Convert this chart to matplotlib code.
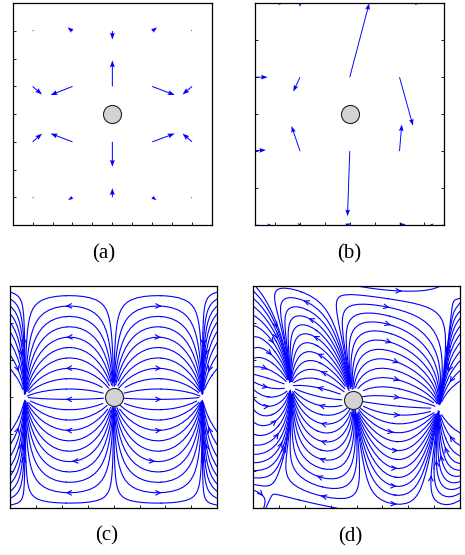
import matplotlib
matplotlib.use("Agg")
import matplotlib.pyplot as plt
import numpy as np

# (a) quiver: grid and vectors (rows from bottom)
a_x = [1, 3, 5, 7, 9]
a_y = [1, 3, 5, 7]
a_u = [
    [0.06, -0.22, 0.0, 0.22, -0.06],
    [0.47, -1.10, 0.0, 1.13, -0.48],
    [0.47, -1.10, 0.0, 1.13, -0.48],
    [0.06, -0.25, 0.0, 0.25, -0.06],
]
a_v = [
    [-0.04, -0.10, 0.33, -0.10, -0.04],
    [0.30, 0.30, -0.90, 0.30, 0.30],
    [-0.29, -0.31, 0.94, -0.31, -0.29],
    [0.04, 0.13, -0.31, 0.13, 0.04],
]

# (b) quiver
b_x = [0, 2, 4, 6, 8]
b_y = [0, 2, 4, 6]
b_u = [
    [0.95, -0.10, -0.20, 0.25, -0.90],
    [0.63, -0.34, -0.09, 0.09, 0.30],
    [0.70, -0.27, 0.78, 0.54, 0.30],
    [1.40, 0.00, 0.00, 0.88, 0.20],
]
b_v = [
    [-0.03, 0.05, 0.03, 0.02, -0.03],
    [0.03, 0.68, -1.76, 0.72, 0.00],
    [0.00, -0.39, 2.00, -1.31, 0.00],
    [0.02, -0.10, 0.30, 0.02, 0.00],
]

# (c) / (d): separatrix columns
# order: left sink column, source column (circle), right sink column
c_col_top = [0.58, 4.0, 7.42]
c_col_mid = [0.58, 4.0, 7.42]
c_col_bot = [0.58, 4.0, 7.42]
c_node_y = [3.0, 3.0, 3.0]

d_col_top = [0.4, 2.9, 7.75]
d_col_mid = [1.45, 3.86, 7.18]
d_col_bot = [0.5, 4.3, 6.5]
d_node_y = [3.29, 2.93, 2.70]

cell_w, cell_h = 6.84, 6.0
beta = 0.6

circle_a = (5, 4)
circle_b = (4, 3)


def columns(top, mid, bot, node_y, yy):
    out = []
    for t, m, b, ym in zip(top, mid, bot, node_y):
        out.append(np.polyval(np.polyfit([0, ym, 6], [b, m, t], 2), yy))
    return out


def stream_field(top, mid, bot, node_y, nx=320, ny=240):
    x = np.linspace(0, 8, nx)
    y = np.linspace(0, 6, ny)
    X, Y = np.meshgrid(x, y)
    xl, xs, xr = columns(top, mid, bot, node_y, Y)
    h = cell_w / 2
    cx = (-h * (X - xs) * (X - xr) / ((xl - xs) * (xl - xr))
          + h * (X - xl) * (X - xs) / ((xr - xl) * (xr - xs)))
    sc = np.polyfit(mid, node_y, 2)
    cy = Y - np.polyval(sc, X)
    kx, ky = 2 * np.pi / cell_w, 2 * np.pi / cell_h
    uc = np.sin(kx * cx)
    vc = beta * np.cos(kx * cx) * np.sin(ky * cy)
    cx_y, cx_x = np.gradient(cx, y, x)
    cy_x = -np.polyval(np.polyder(sc), X)
    det = cx_x - cx_y * cy_x
    U = (uc - cx_y * vc) / det
    V = (-cy_x * uc + cx_x * vc) / det
    mask = ((X - mid[1]) / 0.3) ** 2 + ((Y - node_y[1]) / 0.22) ** 2 < 1
    for x0, y0 in zip(mid, node_y):
        mask |= (X - x0) ** 2 + (Y - y0) ** 2 < 0.06 ** 2
    return x, y, np.ma.array(U, mask=mask), np.ma.array(V, mask=mask)


def seeds(top, mid, bot, node_y, step):
    ys = np.arange(step / 2, 6, step)
    xl, xs, xr = columns(top, mid, bot, node_y, ys)
    pts = []
    for cols in [(xl + xs) / 2, (xs + xr) / 2, xl / 2, (xr + 8) / 2]:
        pts += list(zip(cols, ys))
    return np.array(pts)


def style_axes(ax, xlim, ylim, xticks, yticks, right=False):
    ax.set_xlim(*xlim)
    ax.set_ylim(*ylim)
    ax.set_xticks(xticks)
    ax.set_yticks(yticks)
    ax.tick_params(direction="in", length=2, width=0.6, labelbottom=False,
                   labelleft=False, right=right)
    for s in ax.spines.values():
        s.set_linewidth(0.9)


def draw_circle(ax, c):
    ax.plot(c[0], c[1], "o", ms=13, mfc="#d3d3d3", mec="#222222", mew=0.8,
            zorder=10, clip_on=False)


def draw_quiver(ax, gx, gy, u, v):
    X, Y = np.meshgrid(gx, gy)
    ax.quiver(X, Y, np.array(u), np.array(v), angles="xy", scale_units="xy",
              scale=1, color="b", width=0.005, headwidth=5, headlength=7,
              headaxislength=6)


fig = plt.figure(figsize=(4.65, 5.55), dpi=100)
W, H = 465, 555


def add_ax(l, r, t, b):
    return fig.add_axes([l / W, (H - b) / H, (r - l) / W, (b - t) / H])


ax_a = add_ax(12.7, 212.0, 3.3, 225.0)
ax_b = add_ax(254.7, 444.3, 3.3, 225.0)
ax_c = add_ax(10.0, 217.3, 286.0, 508.3)
ax_d = add_ax(252.7, 460.3, 286.0, 508.3)

draw_quiver(ax_a, a_x, a_y, a_u, a_v)
style_axes(ax_a, (0, 10), (0, 8), range(1, 10), range(1, 8))
draw_circle(ax_a, circle_a)

draw_quiver(ax_b, b_x, b_y, b_u, b_v)
style_axes(ax_b, (0.18, 7.8), (0, 6), range(1, 8), range(1, 6), right=True)
draw_circle(ax_b, circle_b)

for ax, cols, ny_, step, every in [
    (ax_c, (c_col_top, c_col_mid, c_col_bot), c_node_y, 0.28, 3),
    (ax_d, (d_col_top, d_col_mid, d_col_bot), d_node_y, 0.24, 2),
]:
    x, y, U, V = stream_field(*cols, ny_)
    pts = seeds(*cols, ny_, step)
    with_arrow = np.arange(len(pts)) % every == 1
    for sel, style in [(with_arrow, "->"), (~with_arrow, "-")]:
        ax.streamplot(x, y, U, V, start_points=pts[sel], color="b",
                      linewidth=0.8, arrowsize=0.8, arrowstyle=style,
                      broken_streamlines=False, maxlength=8)
    style_axes(ax, (0, 8), (0, 6), range(1, 8), range(1, 6))
    draw_circle(ax, (cols[1][1], ny_[1]))

for label, x, y in [("(a)", 104, 254), ("(b)", 349, 254),
                    ("(c)", 107, 536), ("(d)", 350, 537)]:
    fig.text(x / W, 1 - y / H, label, ha="center", va="center", fontsize=15,
             family="Liberation Serif")

plt.savefig("out.png", dpi=100)
